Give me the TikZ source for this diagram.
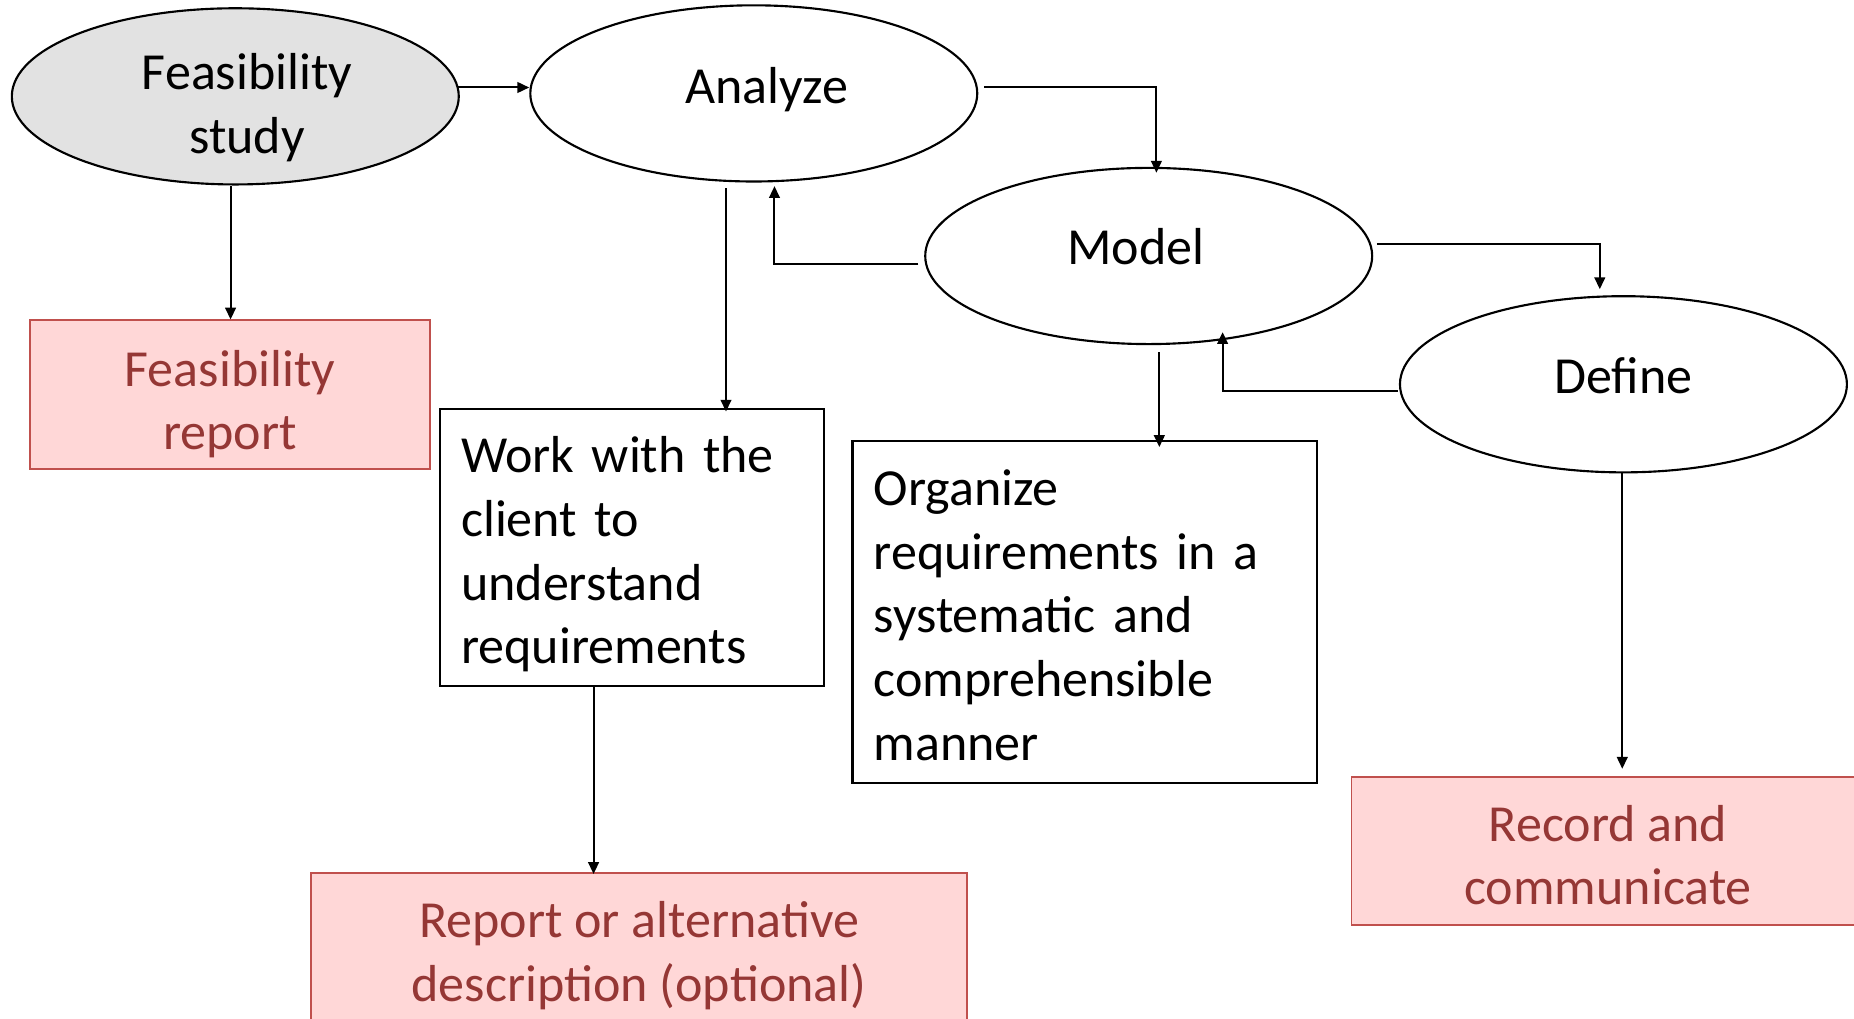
\documentclass[tikz,border=0pt]{standalone}
\usepackage{fontspec}
\setmainfont{Carlito}
\usepackage{tikz}
\usetikzlibrary{arrows.meta, shapes, positioning}

\definecolor{shade}{RGB}{226,226,226}
\definecolor{rose}{RGB}{255,215,215}
\definecolor{roseline}{RGB}{192,80,77}
\definecolor{rosetext}{RGB}{149,55,53}

\newcommand{\topgap}[1]{\rule{0pt}{#1}}

\tikzset{
	phase/.style={draw, ellipse, line width=0.9pt, align=center, inner sep=0pt, minimum width=189pt, minimum height=74.5pt},
	output/.style={draw=roseline, fill=rose, text=rosetext, line width=0.8pt, align=center, inner sep=0pt},
	task/.style={draw, line width=0.9pt, align=left, inner xsep=9pt, inner ysep=0pt},
	flow/.style={-{Triangle[length=5pt, width=4.5pt]}, line width=0.85pt},
	lift/.style={text height=15pt, text depth=#1}
}

\begin{document}
\begin{tikzpicture}[x=0.5pt, y=-0.5pt, font=\fontsize{22}{27}\selectfont]
	\useasboundingbox (0,0) rectangle (1568,861);
	
	\node[phase, fill=shade, inner ysep=-5pt]	(fs) 	at (199,81.5) 	{\topgap{25pt}\hspace*{10pt}Feasibility\\\hspace*{10pt}study};
	\node[phase, lift=6.5pt]	(an) 	at (637.5,79) 	{\hspace*{11pt}Analyze};
	\node[phase, lift=7.5pt]	(md) 	at (971.5,216.5) 	{Model\hspace*{11pt}};
	\node[phase, lift=7.5pt]	(df) 	at (1373,325) 	{Define};
	
	\node[output, minimum width=169.5pt, minimum height=63pt]	(fr) 	at (194.5,334) 	{\topgap{23pt}Feasibility\\report};
	\node[output, minimum width=277.5pt, minimum height=64pt]	(rp) 	at (540.5,802) 	{\topgap{21.5pt}Report or alternative\\description (optional)};
	\node[output, minimum width=217pt, minimum height=62.5pt]	(rc) 	at (1360,719.5) {\topgap{19pt}Record and\\communicate};
	
	\node[task, text width=144.5pt, minimum height=117pt] 	(wk) 	at (534.5,463) 	{\topgap{21pt}Work with the\\client to\\understand\\requirements};
	\node[task, text width=178.5pt, minimum height=144.5pt] 	(og) 	at (917.5,517.5) {\topgap{18pt}Organize\\requirements in a\\systematic and\\comprehensible\\manner};
	
	\coordinate (s1) at ([shift={(-2,-7.5)}]fs.east);
	\coordinate (s2) at ([shift={(-4,0)}]fs.south);
	\coordinate (s3) at ([shift={(5,-5)}]an.east);
	\coordinate (s4) at ([shift={(-5,6.5)}]md.west);
	\coordinate (s5) at ([shift={(-23.5,5)}]an.south);
	\coordinate (s6) at ([shift={(3,-10.5)}]md.east);
	\coordinate (s7) at ([shift={(-1,6)}]df.west);
	\coordinate (s8) at ([shift={(9,6)}]md.south);
	\coordinate (s9) at ([shift={(-1,0)}]df.south);
	\coordinate (s10) at ([shift={(-32.5,0)}]wk.south);
	
	\draw[flow] (s1) -- (s1 -| an.west);
	\draw[flow] (s2) -- (s2 |- fr.north);
	\draw[flow] (s3) -| ([shift={(6.5,5)}]md.north);
	\draw[flow] (s4) -| ([shift={(17.5,3)}]an.south);
	\draw[flow] (s5) -- ([yshift=-1.5pt]s5 |- wk.north);
	\draw[flow] (s6) -| ([shift={(-20,-5)}]df.north);
	\draw[flow] (s7) -| ([shift={(62.5,-11)}]md.south);
	\draw[flow] (s8) -- ([yshift=-3pt]s8 |- og.north);
	\draw[flow] (s9) -- ([yshift=3pt]s9 |- rc.north);
	\draw[flow] (s10) -- ([yshift=-1pt]s10 |- rp.north);
\end{tikzpicture}
\end{document}
